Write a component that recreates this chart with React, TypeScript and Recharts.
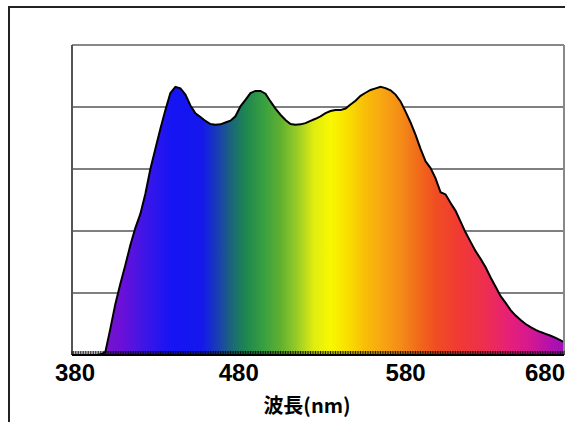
import { AreaChart, Area, XAxis, YAxis, CartesianGrid, ReferenceLine } from 'recharts';

// 波長 (nm) と相対強度 (%) — 画像から読み取った値
const WAVELENGTHS = [
  380, 385, 390, 395, 398, 400, 403, 406, 409, 412, 415, 418, 421, 424, 427, 430, 433, 436, 439,
  442, 445, 448, 451, 454, 457, 460, 463, 466, 469, 472, 475, 478, 481, 484, 487, 490, 493, 496,
  499, 502, 505, 508, 511, 514, 517, 520, 523, 526, 529, 532, 535, 538, 541, 544, 547, 550, 553,
  556, 559, 562, 565, 568, 571, 574, 577, 580, 583, 586, 589, 592, 595, 598, 601, 604, 607, 610,
  613, 616, 619, 622, 625, 628, 631, 634, 637, 640, 643, 646, 649, 652, 655, 658, 661, 664, 667,
  670, 673, 675,
];
const INTENSITY = [
  0, 0, 0, 0, 0.3, 1, 8.5, 16.5, 23, 29, 35.5, 41, 45.5, 52, 60, 66.5, 73, 79, 84.5,
  86.5, 86, 84, 80.5, 78, 76.8, 75.5, 74.5, 74.3, 74.4, 75, 75.6, 77, 80.2, 82.3, 84.5, 85.2, 85.2, 84.3,
  81.8, 79.5, 77.5, 75.8, 74.5, 74.3, 74.4, 74.8, 75.5, 76.2, 77, 78, 78.7, 79, 79, 79.5, 80.8, 82, 83.6,
  84.6, 85.5, 86, 86.5, 86.1, 85.4, 84, 81.8, 78.5, 75, 71, 66.5, 62.5, 60.3, 57, 52.5, 51.8, 49, 46.5,
  43, 39.5, 36.5, 33.5, 31, 28.3, 25, 22, 19, 16.8, 14.5, 12.7, 11.3, 10, 9, 8.1, 7.4, 6.8, 6.2,
  5.5, 4.7, 4.2,
];
const X_LABELS = [380, 480, 580, 680];
const Y_TICKS = [0, 20, 40, 60, 80, 100];

const X_MIN = 380;
const X_MAX = 675;

// 1nm ごとの小目盛り
const MINOR_TICKS = Array.from({ length: X_MAX - X_MIN + 1 }, (_, i) => X_MIN + i);

// スペクトルの色 (nm -> color)
const SPECTRUM = [
  [380, '#7a14c8'], [398, '#7a14c8'], [410, '#6a10d8'], [425, '#3a16e8'], [440, '#1414f4'],
  [458, '#1418ec'], [468, '#1a40b0'], [476, '#1a6878'], [484, '#1e8650'], [495, '#38a040'],
  [505, '#60b030'], [515, '#98cc28'], [525, '#e0ec10'], [535, '#f8f800'], [545, '#f8e000'],
  [555, '#f8c008'], [565, '#f8a810'], [577, '#f48c18'], [588, '#f06a1a'], [598, '#f04e22'],
  [612, '#f03a34'], [628, '#ee2e50'], [642, '#e62078'], [655, '#d41890'], [668, '#b010b0'],
  [675, '#a010b8'],
] as const;

const data = WAVELENGTHS.map((nm, i) => ({ nm, value: INTENSITY[i] }));

const PLOT_RIGHT = 564;

function XTick({ x, y, payload }: any) {
  let tx = x;
  let anchor: 'middle' | 'end' = 'middle';
  if (x + 22 > PLOT_RIGHT) {
    tx = PLOT_RIGHT + 1;
    anchor = 'end';
  } else if (payload.value === 380) {
    tx = x + 3;
  }
  return (
    <text
      x={tx}
      y={y + 26}
      textAnchor={anchor}
      fontSize={24}
      fontWeight="bold"
      fontFamily="'Liberation Sans', Arial, sans-serif"
      fill="#000"
    >
      {payload.value}
    </text>
  );
}

export default function App() {
  return (
    <div style={{ position: 'absolute', left: 0, top: 0, width: 565, height: 422, overflow: 'hidden', background: '#fff' }}>
      <div
        style={{
          position: 'absolute',
          left: 8,
          top: 6,
          right: -4,
          bottom: -4,
          borderTop: '2px solid #222',
          borderLeft: '2px solid #222',
        }}
      />
      <div style={{ position: 'absolute', left: 0, top: 0 }}>
        <AreaChart
          width={565}
          height={422}
          data={data}
          margin={{ top: 45, right: 1, bottom: 37, left: 72 }}
        >
          <defs>
            <linearGradient id="spectrum" x1="0" y1="0" x2="1" y2="0">
              {SPECTRUM.map(([nm, color]) => (
                <stop key={nm} offset={(nm - X_MIN) / (X_MAX - X_MIN)} stopColor={color} />
              ))}
            </linearGradient>
          </defs>
          <CartesianGrid
            vertical={false}
            horizontalValues={Y_TICKS}
            stroke="#000"
            strokeWidth={1}
          />
          <YAxis hide domain={[0, 100]} ticks={Y_TICKS} />
          <Area
            type="linear"
            dataKey="value"
            stroke="#000"
            strokeWidth={2}
            fill="url(#spectrum)"
            fillOpacity={1}
            dot={false}
            activeDot={false}
            isAnimationActive={false}
          />
          <ReferenceLine y={100} stroke="#888" strokeWidth={2} />
          <ReferenceLine x={X_MAX} stroke="#888" strokeWidth={2} />
          <ReferenceLine x={X_MIN} stroke="#555" strokeWidth={2} />
          <XAxis
            dataKey="nm"
            type="number"
            domain={[X_MIN, X_MAX]}
            allowDataOverflow
            ticks={X_LABELS}
            interval={0}
            tickLine={false}
            tickSize={0}
            tickMargin={0}
            axisLine={{ stroke: '#000', strokeWidth: 2 }}
            height={30}
            tick={<XTick />}
            label={{
              content: ({ viewBox }: any) => (
                <text
                  x={viewBox.x + viewBox.width / 2 - 11}
                  y={viewBox.y + 58}
                  textAnchor="middle"
                  fontSize={20}
                  fontWeight="bold"
                  fontFamily="'Noto Sans CJK JP', sans-serif"
                  fill="#000"
                >
                  波長(nm)
                </text>
              ),
            }}
          />
        </AreaChart>
      </div>
      {/* 小目盛りはスペクトルの上に重ねる (mirror 軸は高さを取らないので bottom を広げる) */}
      <div style={{ position: 'absolute', left: 0, top: 0, pointerEvents: 'none' }}>
        <AreaChart
          width={565}
          height={422}
          data={data}
          margin={{ top: 45, right: 1, bottom: 67, left: 72 }}
        >
          <YAxis hide domain={[0, 100]} />
          <Area
            dataKey="value"
            stroke="none"
            fill="none"
            dot={false}
            activeDot={false}
            isAnimationActive={false}
          />
          <XAxis
            dataKey="nm"
            type="number"
            domain={[X_MIN, X_MAX]}
            allowDataOverflow
            ticks={MINOR_TICKS}
            interval={0}
            mirror
            tickSize={4}
            tick={() => <g />}
            tickLine={{ stroke: '#000', strokeOpacity: 0.85, strokeWidth: 1 }}
            axisLine={false}
            height={30}
          />
        </AreaChart>
      </div>
    </div>
  );
}
